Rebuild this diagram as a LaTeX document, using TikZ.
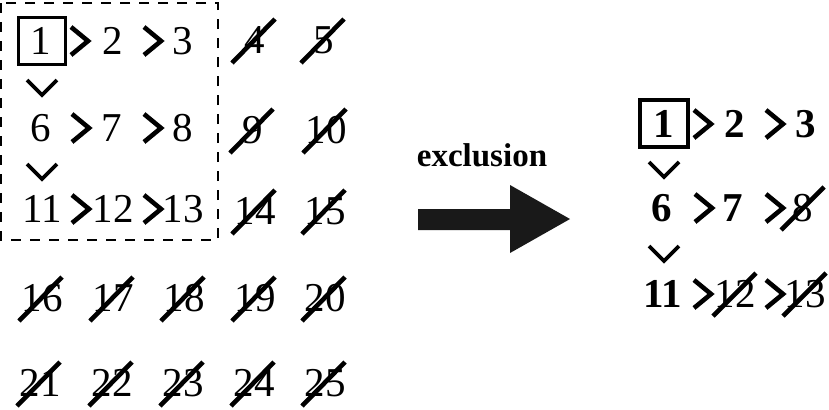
\documentclass[tikz,border=0pt]{standalone}
\usepackage{fontspec}
\setmainfont{Liberation Serif}
\usetikzlibrary{calc}
\newcommand\dgfont{\fontsize{20.5}{20.5}\selectfont}
\tikzset{
  digit/.style={inner sep=0pt, font=\dgfont},
  bdigit/.style={inner sep=0pt, font=\dgfont\bfseries},
  slash/.style={line width=2.3pt},
  chev/.style={line width=2.3pt, line join=miter},
  veech/.style={line width=1.9pt, line join=miter},
  gtpic/.pic={\draw[chev] (-8,-14) -- (9,0) -- (-8,14);},
  veepic/.pic={\draw[veech] (-15,-8) -- (0,7) -- (15,-8);},
  dashbox/.style={line width=1pt, dash pattern=on 5pt off 4.5pt},
  hlbox/.style={draw, line width=1.5pt, minimum width=23.5pt, minimum height=23.5pt, inner sep=0pt},
  bigarrow/.style={fill=black!90},
}
\begin{document}
\begin{tikzpicture}[x=0.5pt, y=-0.5pt]
\useasboundingbox (0,0) rectangle (829,409);
% ---------- left grid ----------
\draw[dashbox] (1,3) rectangle (218,240);
\node[hlbox] (lbox) at (41.5,40.5) {};
\node[digit] (l1) at (41,41) {1};
\node[digit] (l2) at (113,41) {2};
\node[digit] (l3) at (183,41) {3};
\node[digit] (l4) at (255,40) {4};
\node[digit] (l5) at (324,40) {5};
\node[digit] (l6) at (41,128) {6};
\node[digit] (l7) at (112,128) {7};
\node[digit] (l8) at (183,128) {8};
\node[digit] (l9) at (253,130) {9};
\node[digit] (l10) at (326,130) {10};
\node[digit] (l11) at (42,209) {11};
\node[digit] (l12) at (113,209) {12};
\node[digit] (l13) at (183,209) {13};
\node[digit] (l14) at (255,211) {14};
\node[digit] (l15) at (325,211) {15};
\node[digit] (l16) at (42,298) {16};
\node[digit] (l17) at (113,298) {17};
\node[digit] (l18) at (184,298) {18};
\node[digit] (l19) at (255,298) {19};
\node[digit] (l20) at (325,298) {20};
\node[digit] (l21) at (40,383) {21};
\node[digit] (l22) at (112,383) {22};
\node[digit] (l23) at (183,383) {23};
\node[digit] (l24) at (254,383) {24};
\node[digit] (l25) at (325,383) {25};
\foreach \n in {4,5,9,10,14,15,16,17,18,19,20,21,22,23,24,25}
  \draw[slash] ($(l\n)+(-23,23)$) -- ($(l\n)+(20,-21)$);
\pic at (79,41) {gtpic};
\pic at (152,41) {gtpic};
\pic at (80,128) {gtpic};
\pic at (152,128) {gtpic};
\pic at (80,209) {gtpic};
\pic at (152,209) {gtpic};
\pic at (42,88) {veepic};
\pic at (42,172) {veepic};
% ---------- arrow ----------
\node[inner sep=0pt, font=\fontsize{16.5}{16.5}\selectfont\bfseries] (excl) at (482,155) {exclusion};
\fill[bigarrow] (418,209) -- (510,209) -- (510,185) -- (570,219) -- (510,253) -- (510,230) -- (418,230) -- cycle;
% ---------- right grid ----------
\node[hlbox, line width=1.9pt, minimum width=24pt] (rbox) at (664,123.5) {};
\node[bdigit] (r1) at (664,124) {1};
\node[bdigit] (r2) at (735,124) {2};
\node[bdigit] (r3) at (806,124) {3};
\node[bdigit] (r6) at (662,208) {6};
\node[bdigit] (r7) at (733,208) {7};
\node[digit] (r8) at (803,208) {8};
\node[bdigit] (r11) at (663,294) {11};
\node[digit] (r12) at (735,294) {12};
\node[digit] (r13) at (805,294) {13};
\foreach \n in {8,12,13}
  \draw[slash] ($(r\n)+(-22,22)$) -- ($(r\n)+(21,-21)$);
\pic at (702,124) {gtpic};
\pic at (774,124) {gtpic};
\pic at (703,208) {gtpic};
\pic at (774,208) {gtpic};
\pic at (702,294) {gtpic};
\pic at (774,294) {gtpic};
\pic at (664,170) {veepic};
\pic at (664,254) {veepic};
\end{tikzpicture}
\end{document}
